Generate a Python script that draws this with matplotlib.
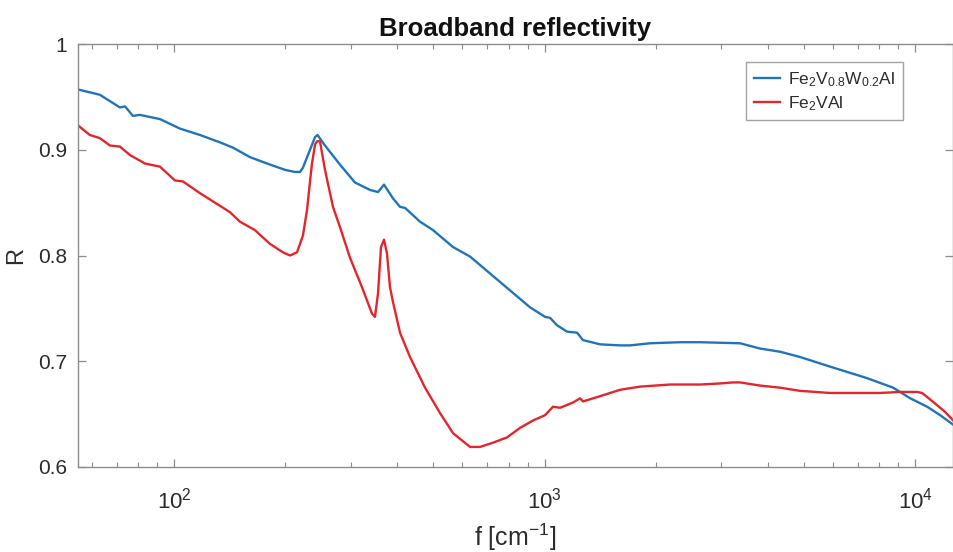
import matplotlib
matplotlib.use("Agg")
import matplotlib.pyplot as plt
from matplotlib.ticker import LogLocator, NullFormatter, FixedLocator

plt.rcParams['font.family'] = ['Liberation Sans', 'DejaVu Sans']
plt.rcParams['mathtext.fontset'] = 'custom'
plt.rcParams['mathtext.rm'] = 'Liberation Sans'
plt.rcParams['mathtext.it'] = 'Liberation Sans'

# Fe2V0.8W0.2Al reflectivity
f_w = [55.1, 63.1, 71.5, 73.8, 77.5, 80.9, 86.1, 91.7, 103.8, 117.5, 133.1,
       144.3, 160.4, 181.6, 199.4, 212.1, 218.8, 222.9, 232.9, 240.3, 244.0,
       255.6, 280.5, 308.0, 338.1, 355.3, 368.8, 390.0, 407.4, 420.3, 461.3,
       500.2, 566.3, 629.5, 712.7, 807.0, 913.8, 1003, 1035, 1081, 1150,
       1224, 1270, 1412, 1599, 1701, 1926, 2322, 2629, 3371, 3816, 4321,
       4893, 6008, 7421, 8722, 9694, 10775, 11682, 12665]
R_w = [0.957, 0.952, 0.940, 0.941, 0.932, 0.933, 0.931, 0.929, 0.920, 0.914,
       0.907, 0.902, 0.893, 0.886, 0.881, 0.879, 0.879, 0.883, 0.900, 0.912,
       0.914, 0.904, 0.886, 0.869, 0.862, 0.860, 0.867, 0.854, 0.846, 0.845,
       0.832, 0.824, 0.808, 0.799, 0.783, 0.767, 0.751, 0.742, 0.741, 0.734,
       0.728, 0.727, 0.720, 0.716, 0.715, 0.715, 0.717, 0.718, 0.718, 0.717,
       0.712, 0.709, 0.704, 0.694, 0.684, 0.675, 0.665, 0.657, 0.649, 0.640]

# Fe2VAl reflectivity
f_v = [55.1, 59.3, 63.1, 67.2, 71.5, 76.1, 83.5, 91.7, 100.6, 105.8, 117.5,
       129.0, 141.6, 150.7, 165.4, 181.6, 196.9, 205.7, 214.8, 222.9, 228.6,
       232.9, 235.8, 240.3, 243.2, 247.8, 255.6, 268.6, 280.5, 298.5, 321.7,
       342.3, 348.8, 355.3, 362.0, 368.8, 375.7, 382.8, 390.0, 407.4, 433.5,
       476.0, 522.4, 566.3, 629.5, 669.8, 726.1, 792.1, 858.7, 931.1, 1003,
       1054, 1101, 1194, 1247, 1270, 1412, 1599, 1810, 2182, 2629, 2977,
       3227, 3371, 3816, 4321, 4893, 5898, 6676, 8045, 9110, 10125, 10445,
       11324, 12050, 12665]
R_v = [0.923, 0.914, 0.911, 0.904, 0.903, 0.895, 0.887, 0.884, 0.871, 0.870,
       0.859, 0.850, 0.841, 0.832, 0.824, 0.811, 0.803, 0.800, 0.803, 0.819,
       0.843, 0.870, 0.887, 0.905, 0.908, 0.908, 0.881, 0.846, 0.827, 0.798,
       0.770, 0.745, 0.742, 0.764, 0.808, 0.815, 0.802, 0.770, 0.756, 0.727,
       0.704, 0.675, 0.651, 0.632, 0.619, 0.619, 0.623, 0.628, 0.637, 0.644,
       0.649, 0.657, 0.656, 0.661, 0.665, 0.662, 0.667, 0.673, 0.676, 0.678,
       0.678, 0.679, 0.680, 0.680, 0.677, 0.675, 0.672, 0.670, 0.670, 0.670,
       0.671, 0.671, 0.670, 0.660, 0.652, 0.644]

y_ticks = [0.6, 0.7, 0.8, 0.9, 1.0]
y_labels = ['0.6', '0.7', '0.8', '0.9', '1']

BLUE = '#1f75b8'
RED = '#e3262c'
AXC = '#8c8c8c'
TXT = '#2b2b2b'

fig = plt.figure(figsize=(9.54, 5.52), dpi=100)
ax = fig.add_axes([78 / 954, 1 - 467 / 552, 875 / 954, 423 / 552])

ax.plot(f_w, R_w, color=BLUE, lw=1.7, label=r'Fe$_2$V$_{0.8}$W$_{0.2}$Al')
ax.plot(f_v, R_v, color=RED, lw=1.7, label=r'Fe$_2$VAl')

ax.set_xscale('log')
ax.set_xlim(55.1, 12650)
ax.set_ylim(0.6, 1.0)
ax.yaxis.set_major_locator(FixedLocator(y_ticks))
ax.set_yticklabels(y_labels)
ax.xaxis.set_major_locator(LogLocator(base=10, numticks=10))
ax.xaxis.set_minor_locator(LogLocator(base=10, subs=range(2, 10), numticks=20))
ax.xaxis.set_minor_formatter(NullFormatter())

for s in ax.spines.values():
    s.set_color(AXC)
    s.set_linewidth(1.0)
ax.tick_params(which='both', direction='in', top=True, right=True,
               color=AXC, labelcolor=TXT, labelsize=15)
ax.tick_params(which='major', length=6, width=0.9, pad=8)
ax.tick_params(axis='x', which='major', labelsize=16, pad=15)
ax.tick_params(which='minor', length=3.5, width=0.8)

ax.set_title('Broadband reflectivity', fontsize=18.5, fontweight='bold',
             color='#111111', pad=6)
ax.set_xlabel(r'f [cm$^{-1}$]', fontsize=18, color=TXT, labelpad=6)
ax.set_ylabel('R', fontsize=17, color=TXT, labelpad=8)

leg = ax.legend(loc='upper right', bbox_to_anchor=(0.943, 0.957),
                fontsize=12.5, frameon=True, fancybox=False,
                handlelength=1.5, handletextpad=0.5, borderpad=0.45,
                labelspacing=0.3, borderaxespad=0)
leg.get_frame().set_edgecolor('#8c8c8c')
leg.get_frame().set_linewidth(1.0)
for t in leg.get_texts():
    t.set_color(TXT)

fig.savefig('out.png', dpi=100)
